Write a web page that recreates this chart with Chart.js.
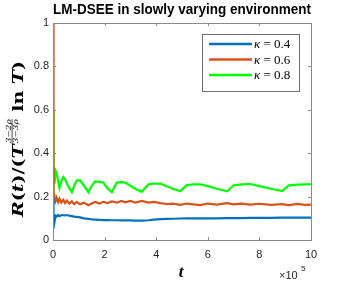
<!DOCTYPE html>
<html>
<head>
<meta charset="utf-8">
<script src="https://cdn.jsdelivr.net/npm/chart.js@4.4.0/dist/chart.umd.min.js"></script>
<style>
  html, body { margin: 0; padding: 0; background: #fff; }
  canvas { display: block; }
</style>
</head>
<body>
<canvas id="regret_chart" width="344" height="285"></canvas>
<script>
// time axis, in units of 1e5 (shared by all three runs)
const tValues = [0, 0.01, 0.03, 0.06, 0.1, 0.14, 0.2, 0.25, 0.32, 0.4, 0.47, 0.54, 0.63, 0.73, 0.82, 0.92,
  1.05, 1.2, 1.37, 1.5, 1.63, 1.8, 1.95, 2.1, 2.28, 2.47, 2.65, 2.8, 3.0, 3.2, 3.44, 3.7, 3.9, 4.16,
  4.4, 4.65, 4.93, 5.19, 5.45, 5.71, 6.0, 6.35, 6.75, 7.0, 7.3, 7.65, 8.0, 8.45, 8.88, 9.14, 9.5, 9.75, 10];

const kappaLabels = ['κ = 0.4', 'κ = 0.6', 'κ = 0.8'];

const kappa04 = [0.2, 0.05, 0.1, 0.085, 0.112, 0.108, 0.115, 0.11, 0.114, 0.115, 0.113, 0.115, 0.112, 0.11, 0.108, 0.107,
  0.104, 0.1, 0.097, 0.095, 0.094, 0.093, 0.092, 0.092, 0.091, 0.091, 0.09, 0.09, 0.09, 0.089, 0.089, 0.091, 0.094, 0.096,
  0.097, 0.098, 0.099, 0.1, 0.1, 0.1, 0.1, 0.1, 0.101, 0.101, 0.101, 0.102, 0.102, 0.102, 0.103, 0.103, 0.103, 0.103, 0.103];

const kappa06 = [1.0, 0.2, 0.17, 0.2, 0.18, 0.195, 0.175, 0.19, 0.172, 0.185, 0.17, 0.182, 0.168, 0.178, 0.165, 0.175,
  0.165, 0.172, 0.16, 0.168, 0.175, 0.168, 0.176, 0.17, 0.178, 0.172, 0.18, 0.174, 0.18, 0.172, 0.18, 0.172, 0.176, 0.17,
  0.166, 0.168, 0.162, 0.168, 0.164, 0.161, 0.168, 0.163, 0.17, 0.164, 0.168, 0.163, 0.167, 0.162, 0.165, 0.161, 0.166, 0.162, 0.163];

const kappa08 = [0.6, 0.2, 0.33, 0.26, 0.32, 0.31, 0.27, 0.24, 0.27, 0.29, 0.28, 0.26, 0.24, 0.22, 0.25, 0.275,
  0.275, 0.25, 0.22, 0.25, 0.27, 0.268, 0.265, 0.24, 0.22, 0.265, 0.267, 0.265, 0.25, 0.235, 0.222, 0.257, 0.26, 0.26,
  0.248, 0.236, 0.225, 0.253, 0.256, 0.257, 0.248, 0.236, 0.224, 0.252, 0.256, 0.258, 0.248, 0.236, 0.225, 0.252, 0.255, 0.256, 0.257];

const seriesColors = ['#0072BD', '#D95319', '#00FF00'];
const xTicks = [0, 2, 4, 6, 8, 10];
const yTicks = [0, 0.2, 0.4, 0.6, 0.8, 1];

const axisGrey = '#8a8a8a';
const tickText = '#262626';

// matlab-ish box: frame, inward ticks, axis titles, exponent, legend
const matlabAxes = {
    id: 'matlabAxes',
    afterDraw(chart) {
        const ctx = chart.ctx;
        const a = chart.chartArea;
        const xs = chart.scales.x, ys = chart.scales.y;
        ctx.save();
        ctx.strokeStyle = axisGrey;
        ctx.lineWidth = 1;
        ctx.strokeRect(Math.round(a.left) + 0.5, Math.round(a.top) + 0.5,
            Math.round(a.right - a.left), Math.round(a.bottom - a.top));
        ctx.beginPath();
        xTicks.forEach(v => {
            const px = Math.round(xs.getPixelForValue(v)) + 0.5;
            ctx.moveTo(px, a.bottom); ctx.lineTo(px, a.bottom - 3);
            ctx.moveTo(px, a.top); ctx.lineTo(px, a.top + 3);
        });
        yTicks.forEach(v => {
            const py = Math.round(ys.getPixelForValue(v)) + 0.5;
            ctx.moveTo(a.left, py); ctx.lineTo(a.left + 3, py);
            ctx.moveTo(a.right, py); ctx.lineTo(a.right - 3, py);
        });
        ctx.stroke();

        // x title and exponent
        ctx.fillStyle = '#000';
        ctx.textAlign = 'center';
        ctx.textBaseline = 'alphabetic';
        ctx.font = "bold italic 17px 'Liberation Serif'";
        ctx.fillText('t', (a.left + a.right) / 2 - 1, 277);
        ctx.fillStyle = tickText;
        ctx.textAlign = 'left';
        ctx.font = "11px 'Liberation Sans'";
        ctx.fillText('×10', 279, 279);
        ctx.font = "8px 'Liberation Sans'";
        ctx.fillText('5', 301, 271);

        drawYTitle(ctx, 23, 139, 156);
        drawLegend(ctx, chart);
        ctx.restore();
    }
};

function drawYTitle(ctx, baseX, midY, targetLen) {
    const it = "bold italic 15px 'DejaVu Serif'";
    const up = "bold 15px 'DejaVu Serif'";
    const fracFont = "italic 7px 'DejaVu Serif'";
    const parts = [
        ['R', it], ['(', up], ['t', it], [')/(', up], ['T', it], ['FRAC', fracFont],
        [' ln ', up], ['T', it], [')', up]
    ];
    const num = '3−2ρ', den = '3−3ρ';
    let total = 0;
    const widths = parts.map(([txt, f]) => {
        ctx.font = f;
        const w = txt === 'FRAC' ? Math.max(ctx.measureText(num).width, ctx.measureText(den).width) + 1.5 : ctx.measureText(txt).width;
        total += w;
        return w;
    });
    ctx.save();
    ctx.translate(baseX, midY);
    ctx.rotate(-Math.PI / 2);
    ctx.scale(targetLen / total, 1);
    ctx.fillStyle = '#000';
    ctx.textBaseline = 'alphabetic';
    let x = -total / 2;
    parts.forEach(([txt, f], i) => {
        ctx.font = f;
        if (txt === 'FRAC') {
            const cx = x + widths[i] / 2;
            ctx.textAlign = 'center';
            ctx.fillText(num, cx, -12.3);
            ctx.fillText(den, cx, -4.8);
            ctx.fillRect(x + 0.5, -11.3, widths[i] - 1, 0.7);
            ctx.textAlign = 'left';
        } else {
            ctx.textAlign = 'left';
            ctx.fillText(txt, x, 0);
        }
        x += widths[i];
    });
    ctx.restore();
}

function drawLegend(ctx, chart) {
    const box = { x: 202.5, y: 34.5, w: 97, h: 57 };
    const rows = [44, 59.5, 75];
    ctx.fillStyle = '#fff';
    ctx.fillRect(box.x, box.y, box.w, box.h);
    ctx.strokeStyle = '#6e6e6e';
    ctx.lineWidth = 1;
    ctx.strokeRect(box.x, box.y, box.w, box.h);
    chart.data.datasets.forEach((ds, i) => {
        const y = rows[i];
        ctx.strokeStyle = ds.borderColor;
        ctx.lineWidth = 2.5;
        ctx.beginPath();
        ctx.moveTo(209, y); ctx.lineTo(252, y);
        ctx.stroke();
        ctx.fillStyle = '#000';
        ctx.textBaseline = 'middle';
        ctx.textAlign = 'left';
        const [sym, rest] = [ds.label.slice(0, 1), ds.label.slice(1)];
        ctx.font = "italic 13px 'Liberation Serif'";
        ctx.fillText(sym, 254, y + 1);
        const w = ctx.measureText(sym).width;
        ctx.font = "13px 'Liberation Serif'";
        ctx.fillText(rest, 254 + w, y + 1);
    });
}

const ctx = document.getElementById('regret_chart').getContext('2d');
const runs = [kappa04, kappa06, kappa08];

new Chart(ctx, {
    type: 'line',
    data: {
        datasets: runs.map((vals, i) => ({
            label: kappaLabels[i],
            data: tValues.map((t, j) => ({ x: t, y: vals[j] })),
            borderColor: seriesColors[i],
            backgroundColor: seriesColors[i],
            borderWidth: 2.2,
            pointRadius: 0,
            tension: 0,
            fill: false,
        }))
    },
    options: {
        responsive: false,
        animation: false,
        layout: { padding: { left: 0, right: 33, top: 0, bottom: 0 } },
        plugins: {
            legend: { display: false },
            tooltip: { enabled: false },
            title: {
                display: true,
                fullSize: false,
                text: 'LM-DSEE in slowly varying environment',
                color: '#000',
                font: { family: "'Liberation Sans'", size: 15, weight: 'bold' },
                padding: { top: 1, bottom: 4 }
            }
        },
        scales: {
            x: {
                type: 'linear',
                min: 0,
                max: 10,
                afterBuildTicks: s => { s.ticks = xTicks.map(v => ({ value: v })); },
                afterFit: s => { s.height = 45; },
                grid: { display: false, drawTicks: false },
                border: { display: false },
                ticks: {
                    color: tickText,
                    padding: 8,
                    maxRotation: 0,
                    font: { family: "'Liberation Sans'", size: 11 },
                    callback: v => String(v)
                }
            },
            y: {
                min: 0,
                max: 1,
                afterBuildTicks: s => { s.ticks = yTicks.map(v => ({ value: v })); },
                afterFit: s => { s.width = 53; },
                grid: { display: false, drawTicks: false },
                border: { display: false },
                ticks: {
                    color: tickText,
                    padding: 4,
                    font: { family: "'Liberation Sans'", size: 11 },
                    callback: v => String(Number(v.toFixed(1)))
                }
            }
        }
    },
    plugins: [matlabAxes]
});
</script>
</body>
</html>
